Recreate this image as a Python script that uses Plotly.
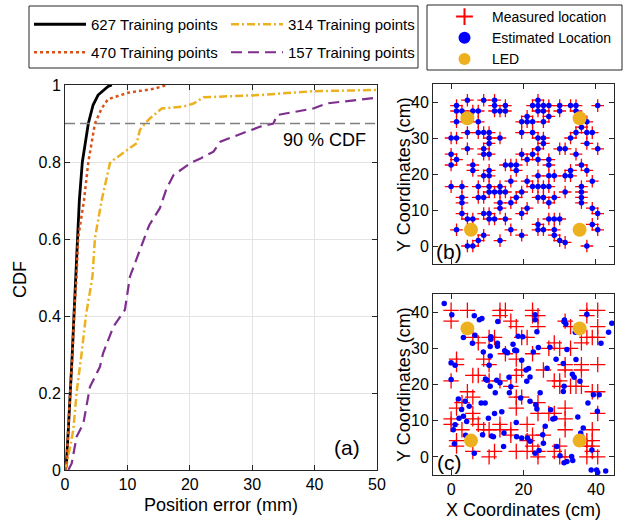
import plotly.graph_objects as go

FONT = "Liberation Sans, Arial, sans-serif"
AX = "#262626"

# ---------------- Panel (a): CDF of position error ----------------
err_627 = [0, 0.2, 0.53, 0.9, 1.17, 1.44, 1.76, 1.98, 2.3, 2.78, 3.74, 4.5, 5.3, 6.9, 7.5]
cdf_627 = [0, 0.01, 0.104, 0.203, 0.304, 0.403, 0.502, 0.602, 0.701, 0.80, 0.90, 0.948, 0.974, 0.996, 1.0]

err_470 = [0, 0.3, 0.5, 0.9, 1.2, 1.45, 1.85, 2.1, 3.04, 3.74, 4.8, 5.9, 6.9, 10.1, 14.2, 16.3]
cdf_470 = [0, 0.02, 0.104, 0.203, 0.304, 0.403, 0.502, 0.602, 0.70, 0.80, 0.90, 0.94, 0.963, 0.98, 0.99, 1.0]

err_314 = [0, 0.3, 1.33, 1.87, 2.67, 3.37, 4.4, 4.8, 5.88, 7.2, 7.74, 11.5, 12.0, 12.8, 13.6, 15.5,
           19.0, 20.6, 22.2, 31.3, 39.8, 50]
cdf_314 = [0, 0.017, 0.104, 0.203, 0.304, 0.403, 0.502, 0.602, 0.701, 0.797, 0.805, 0.849, 0.883, 0.90,
           0.913, 0.939, 0.944, 0.952, 0.968, 0.974, 0.984, 0.987]

err_157 = [0.53, 1.07, 1.87, 2.94, 4.0, 5.6, 6.1, 7.74, 9.6, 10.4, 10.9, 12.5, 13.5, 15.2, 16.3, 17.4,
           20.1, 21.8, 23.8, 24.9, 27.0, 31.3, 33.4, 34.0, 39.8, 41.9, 50]
cdf_157 = [0, 0.017, 0.087, 0.121, 0.216, 0.268, 0.303, 0.372, 0.416, 0.502, 0.524, 0.593, 0.636, 0.68,
           0.732, 0.766, 0.797, 0.81, 0.827, 0.853, 0.866, 0.892, 0.90, 0.922, 0.939, 0.952, 0.967]

cdf_level = 0.9
x_ticks_a = [0, 10, 20, 30, 40, 50]
y_ticks_a = [0, 0.2, 0.4, 0.6, 0.8, 1]
y_ticklabels_a = ["0", "0.2", "0.4", "0.6", "0.8", "1"]

# ---------------- Panel (b): 627 training points ----------------
b_meas_x = [4.5, 9, 12, 24,
            1.5, 12, 15, 22.5, 24, 25.5, 27, 30, 33, 34.5, 40.5,
            1.5, 3, 6, 7.5, 12, 13.5, 15, 24, 25.5, 30, 34.5,
            21, 27,
            1.5, 7.5, 19.5, 21, 22.5, 25.5, 37.5,
            36,
            4.5, 7.5, 9, 10.5, 19.5, 22.5, 34.5, 37.5, 39,
            0, 1.5, 10.5, 13.5, 24, 25.5, 33,
            10.5, 25.5, 37.5,
            4.5, 9, 24, 30, 31.5, 40.5,
            0, 9, 10.5, 19.5, 22.5, 34.5,
            1.5, 21, 24, 27,
            0, 6, 15, 16.5, 18, 27, 36,
            6, 10.5, 18, 33, 37.5,
            9, 10.5, 24, 27, 28.5, 31.5, 33,
            16.5, 21, 39,
            0, 3, 7.5, 10.5, 13.5, 22.5, 24, 25.5, 27, 36,
            10.5, 12, 13.5, 15, 19.5, 31.5, 36,
            3, 7.5, 9, 18, 24, 25.5, 28.5, 36,
            3, 13.5, 16.5, 27, 36,
            13.5, 21, 39,
            3, 9, 10.5, 19.5, 40.5,
            4.5, 6, 10.5, 12, 15, 27, 28.5, 30,
            24, 39,
            1.5, 16.5, 24, 25.5, 28.5, 40.5,
            9, 19.5, 28.5,
            7.5, 13.5, 30, 31.5,
            4.5, 6, 37.5]
b_meas_y = [40.5, 40.5, 40.5, 40.5,
            39, 39, 39, 39, 39, 39, 39, 39, 39, 39, 39,
            37.5, 37.5, 37.5, 37.5, 37.5, 37.5, 37.5, 37.5, 37.5, 37.5, 37.5,
            36, 36,
            34.5, 34.5, 34.5, 34.5, 34.5, 34.5, 34.5,
            33,
            31.5, 31.5, 31.5, 31.5, 31.5, 31.5, 31.5, 31.5, 31.5,
            30, 30, 30, 30, 30, 30, 30,
            28.5, 28.5, 28.5,
            27, 27, 27, 27, 27, 27,
            25.5, 25.5, 25.5, 25.5, 25.5, 25.5,
            24, 24, 24, 24,
            22.5, 22.5, 22.5, 22.5, 22.5, 22.5, 22.5,
            21, 21, 21, 21, 21,
            19.5, 19.5, 19.5, 19.5, 19.5, 19.5, 19.5,
            18, 18, 18,
            16.5, 16.5, 16.5, 16.5, 16.5, 16.5, 16.5, 16.5, 16.5, 16.5,
            15, 15, 15, 15, 15, 15, 15,
            13.5, 13.5, 13.5, 13.5, 13.5, 13.5, 13.5, 13.5,
            12, 12, 12, 12, 12,
            10.5, 10.5, 10.5,
            9, 9, 9, 9, 9,
            7.5, 7.5, 7.5, 7.5, 7.5, 7.5, 7.5, 7.5,
            6, 6,
            4.5, 4.5, 4.5, 4.5, 4.5, 4.5,
            3, 3, 3,
            1.5, 1.5, 1.5, 1.0,
            0, 0, 0]
# estimated locations coincide with the measured ones in panel (b)
b_est_x = list(b_meas_x)
b_est_y = list(b_meas_y)

# ---------------- Panel (c): 157 training points ----------------
c_meas_x = [0, 0, 4.5, 13.5, 15, 13.5, 22.5, 24, 16.5, 18, 31.5, 33, 37.5, 40.5, 37.5, 40.5, 24, 22.5,
            10.5, 7.5, 12, 21, 6, 37.5, 39, 28.5, 27, 30, 9, 18, 33, 36, 1.5, 1.5, 31.5, 31.5, 36, 36,
            6, 7.5, 18, 25.5, 28.5, 30, 34.5, 36, 4.5, 6, 18, 19.5, 24, 39, 40.5, 1.5, 3, 18, 24, 27,
            28.5, 31.5, 40.5, 6, 6, 0, 0, 7.5, 10.5, 13.5, 16.5, 16.5, 21, 22.5, 25.5, 39, 39, 1.5,
            1.5, 9, 12, 10.5, 18, 21, 24, 24, 30, 30, 31.5, 37.5, 40.5, 39, 6,
            10.5, 15, 22.5, 0, 10.5, 13.5, 16.5, 19.5, 40.5, 30, 33, 40.5, 19.5,
            3, 13.5, 21, 31.5, 31.5, 22.5, 37.5, 37.5, 39, 28.5]
c_meas_y = [40.5, 37.5, 40.5, 40.5, 40.5, 39, 39, 39, 37.5, 36, 37.5, 36, 40.5, 40.5, 39, 36, 36, 40.5,
            33, 31.5, 33, 33, 33, 33, 33, 31.5, 30, 30, 27, 27, 30, 31.5, 27, 25.5, 25.5, 24, 25.5, 24,
            22.5, 22.5, 22.5, 24, 21, 21, 19.5, 19.5, 18, 16.5, 16.5, 16.5, 15, 18, 18, 13.5, 15, 13.5, 12, 12,
            12, 13.5, 12, 12, 10.5, 10.5, 9, 9, 7.5, 7.5, 7.5, 6, 9, 6, 6, 7.5, 4.5, 4.5,
            3, 7.5, 1.5, 0, 1.5, 1.5, 1.5, 0, 3, 0, 0, 0, 0, 3, 1.5,
            25.5, 28.5, 28.5, 21, 21, 21, 19.5, 24, 25.5, 19.5, 19.5, 33, 33,
            7.5, 9, 4.5, 7.5, 10.5, 3, 4.5, 3, 1.5, 1.5]

c_est_x = [-1.9, 0.2, 6.4, 7.8, 8.5, 12.9, 23.2, 23.2, 23.7, 31.7, 31.3, 34.3, 37.5, 44.4, 43.5, 41.4,
           3.4, 6.6, 5.9, 11.0, 11.0, 12.8, 8.9, 10.8, 15.2, 15.6, 17.7, 18.1, 19.8, 18.5,
           0.0, 1.1, 10.8, 10.5, 19.5, 20.7, 21.4, 24.1, 22.7, 32.0, 31.0, 34.5, 33.5, 35.6,
           0.0, 9.9, 12.6, 10.8, 16.5, 12.2, 16.1, 20.9, 21.8, 24.6, 31.2, 31.0, 39.3, 40.9, 37.8,
           3.9, 8.3, 9.4, 19.2, 21.8, 23.4, 23.7, 2.9, 2.2, 3.4, 4.3, 1.1, 0.6, 10.3, 28.1, 28.7, 40.4,
           8.7, 11.2, 11.7, 14.6, 18.1, 19.5, 21.1, 21.8, 25.3, 25.5, 35.8, 36.1,
           0.9, 6.4, 14.5, 23.2, 24.3, 29.2, 30.1, 31.2, 33.3, 33.6, 32.0, 38.9, 38.7, 40.2, 40.5, 42.7,
           17.1, 17.6, 12.8, 14.8, 27.3, 31.2, 13.5, 16.0, 14.0, 9.5, 2.0, 5.0, 26.0, 27.5, 35.0, 36.5,
           18.0, 26.5, 12.0, 4.0, 34.0, 29.0]
c_est_y = [42.4, 39.3, 39.0, 37.9, 38.2, 37.4, 39.3, 37.9, 34.6, 36.7, 37.8, 34.4, 39.4, 36.9, 34.4, 31.4,
           33.0, 33.6, 31.4, 33.2, 32.5, 31.4, 29.0, 30.5, 29.0, 28.8, 29.5, 29.3, 33.2, 33.3,
           26.0, 25.3, 27.9, 25.3, 26.7, 24.0, 24.4, 30.2, 29.0, 29.7, 25.8, 26.9, 22.8, 20.9,
           21.4, 21.2, 21.2, 19.5, 19.4, 17.7, 17.7, 20.9, 22.1, 17.7, 19.5, 18.1, 17.2, 17.2, 14.9,
           15.4, 14.9, 14.9, 16.3, 15.4, 14.4, 13.2, 13.1, 10.7, 11.2, 9.8, 8.9, 7.5, 10.7, 10.5, 10.7, 12.6,
           6.1, 5.8, 5.6, 6.6, 5.6, 5.2, 5.2, 4.3, 6.1, 3.8, 6.6, 5.6,
           3.6, 1.0, 2.9, 1.0, 1.8, 2.9, 0.3, -1.6, 0.1, -1.0, -1.3, 1.9, -3.6, -3.6, -4.3, -3.9,
           31.1, 29.4, 30.6, 29.3, 30.3, 37.3, 20.5, 22.0, 12.5, 21.5, 16.0, 14.0, 8.5, 13.0, 11.0, 8.0,
           9.5, 24.5, 12.0, 6.0, 22.0, 27.0]

led_x = [4.5, 35.5, 5.5, 35.5]
led_y = [35.5, 35.5, 4.5, 4.5]

coord_ticks_y = [0, 10, 20, 30, 40]
coord_ticks_x = [0, 20, 40]

BLACK = "#000000"
ORANGE = "#D95319"
YELLOW = "#EDB120"
PURPLE = "#7E2F8E"

fig = go.Figure()

fig.add_trace(go.Scatter(x=err_627, y=cdf_627, mode="lines", name="627 Training points",
                         line=dict(color=BLACK, width=2.8), legend="legend", legendrank=1))
fig.add_trace(go.Scatter(x=err_314, y=cdf_314, mode="lines", name="314 Training points",
                         line=dict(color=YELLOW, width=2.5, dash="8px,3px,2px,3px"),
                         legend="legend", legendrank=2))
fig.add_trace(go.Scatter(x=err_470, y=cdf_470, mode="lines", name="470 Training points",
                         line=dict(color=ORANGE, width=2.5, dash="dot"), legend="legend3", legendrank=3))
fig.add_trace(go.Scatter(x=err_157, y=cdf_157, mode="lines", name="157 Training points",
                         line=dict(color=PURPLE, width=2.2, dash="11px,6px"), legend="legend3", legendrank=4))

# panel (b)
fig.add_trace(go.Scatter(x=b_meas_x, y=b_meas_y, xaxis="x2", yaxis="y2", mode="markers",
                         name="Measured location", legend="legend2",
                         marker=dict(symbol="cross-thin", size=9, line=dict(color="#FF0000", width=1.3))))
fig.add_trace(go.Scatter(x=b_est_x, y=b_est_y, xaxis="x2", yaxis="y2", mode="markers",
                         name="Estimated Location", legend="legend2",
                         marker=dict(symbol="circle", size=5.5, color="#0000FF")))
fig.add_trace(go.Scatter(x=led_x, y=led_y, xaxis="x2", yaxis="y2", mode="markers",
                         name="LED", legend="legend2",
                         marker=dict(symbol="circle", size=14, color=YELLOW)))
# panel (c)
fig.add_trace(go.Scatter(x=c_meas_x, y=c_meas_y, xaxis="x3", yaxis="y3", mode="markers",
                         showlegend=False,
                         marker=dict(symbol="cross-thin", size=11, line=dict(color="#FF0000", width=1.3))))
fig.add_trace(go.Scatter(x=c_est_x, y=c_est_y, xaxis="x3", yaxis="y3", mode="markers",
                         showlegend=False, marker=dict(symbol="circle", size=5.5, color="#0000FF")))
fig.add_trace(go.Scatter(x=led_x, y=led_y, xaxis="x3", yaxis="y3", mode="markers",
                         showlegend=False, marker=dict(symbol="circle", size=14, color=YELLOW)))

W, H = 625, 525
def px(x):
    return x / W
def py(y):
    return 1 - y / H

axis_common = dict(showline=True, linecolor=AX, linewidth=1, mirror="ticks", ticks="inside",
                   ticklen=5, tickcolor=AX, zeroline=False, automargin=False,
                   tickfont=dict(family=FONT, size=16, color="#000000"))

leg_font = dict(family=FONT, size=15, color="#000000")

fig.update_layout(
    width=W, height=H, margin=dict(l=0, r=0, t=0, b=0, autoexpand=False),
    paper_bgcolor="white", plot_bgcolor="white",
    font=dict(family=FONT, color="#000000"),
    xaxis=dict(domain=[px(65), px(377)], anchor="y", range=[0, 50], tickvals=x_ticks_a,
               showgrid=True, gridcolor="#e3e3e3", gridwidth=1, **axis_common),
    yaxis=dict(domain=[py(470), py(85)], anchor="x", range=[0, 1], tickvals=y_ticks_a,
               ticktext=y_ticklabels_a, showgrid=True, gridcolor="#e3e3e3", gridwidth=1, **axis_common),
    xaxis2=dict(domain=[px(433), px(614)], anchor="y2", range=[-5, 45], tickvals=coord_ticks_x,
                showticklabels=False, showgrid=False, **axis_common),
    yaxis2=dict(domain=[py(264), py(84)], anchor="x2", range=[-5, 45], tickvals=coord_ticks_y,
                showgrid=False, **axis_common),
    xaxis3=dict(domain=[px(433), px(614)], anchor="y3", range=[-5, 45], tickvals=coord_ticks_x,
                showgrid=False, **axis_common),
    yaxis3=dict(domain=[py(475), py(294)], anchor="x3", range=[-5, 45], tickvals=coord_ticks_y,
                showgrid=False, **axis_common),
    legend=dict(orientation="h", x=px(29), y=py(8), xanchor="left", yanchor="top",
                entrywidth=130, entrywidthmode="pixels", bgcolor="rgba(0,0,0,0)",
                font=leg_font, itemwidth=52),
    legend3=dict(orientation="h", x=px(29), y=py(36), xanchor="left", yanchor="top",
                 entrywidth=130, entrywidthmode="pixels", bgcolor="rgba(0,0,0,0)",
                 font=leg_font, itemwidth=52),
    legend2=dict(orientation="v", x=px(437), y=py(1), xanchor="left", yanchor="top",
                 bgcolor="rgba(0,0,0,0)", font=dict(family=FONT, size=14, color="#000000"),
                 itemsizing="constant", itemwidth=45),
    shapes=[
        dict(type="rect", xref="paper", yref="paper", x0=px(29), x1=px(418), y0=py(68), y1=py(6),
             line=dict(color=AX, width=1), fillcolor="white", layer="below"),
        dict(type="rect", xref="paper", yref="paper", x0=px(427), x1=px(622), y0=py(70), y1=py(5),
             line=dict(color=AX, width=1), fillcolor="white", layer="below"),
        dict(type="line", xref="x", yref="y", x0=0, x1=50, y0=cdf_level, y1=cdf_level,
             line=dict(color="#808080", width=1.5, dash="10px,5px")),
    ],
    annotations=[
        dict(text="90 % CDF", xref="paper", yref="paper", x=px(368), y=py(140), xanchor="right",
             yanchor="middle", showarrow=False, font=dict(family=FONT, size=18)),
        dict(text="(a)", xref="paper", yref="paper", x=px(347), y=py(447), xanchor="center",
             yanchor="middle", showarrow=False, font=dict(family=FONT, size=21)),
        dict(text="(b)", xref="paper", yref="paper", x=px(449), y=py(251), xanchor="center",
             yanchor="middle", showarrow=False, font=dict(family=FONT, size=21)),
        dict(text="(c)", xref="paper", yref="paper", x=px(449), y=py(462), xanchor="center",
             yanchor="middle", showarrow=False, font=dict(family=FONT, size=21)),
        dict(text="CDF", xref="paper", yref="paper", x=px(20), y=py(280), textangle=-90,
             xanchor="center", yanchor="middle", showarrow=False, font=dict(family=FONT, size=18)),
        dict(text="Position error (mm)", xref="paper", yref="paper", x=px(221), y=py(505),
             xanchor="center", yanchor="middle", showarrow=False, font=dict(family=FONT, size=18)),
        dict(text="Y Coordinates (cm)", xref="paper", yref="paper", x=px(404), y=py(175), textangle=-90,
             xanchor="center", yanchor="middle", showarrow=False, font=dict(family=FONT, size=18)),
        dict(text="Y Coordinates (cm)", xref="paper", yref="paper", x=px(404), y=py(385), textangle=-90,
             xanchor="center", yanchor="middle", showarrow=False, font=dict(family=FONT, size=18)),
        dict(text="X Coordinates (cm)", xref="paper", yref="paper", x=px(523), y=py(510),
             xanchor="center", yanchor="middle", showarrow=False, font=dict(family=FONT, size=18)),
    ],
)

fig.write_html("out.html", config={"displayModeBar": False},
               post_script="document.body.style.margin='0px';")
